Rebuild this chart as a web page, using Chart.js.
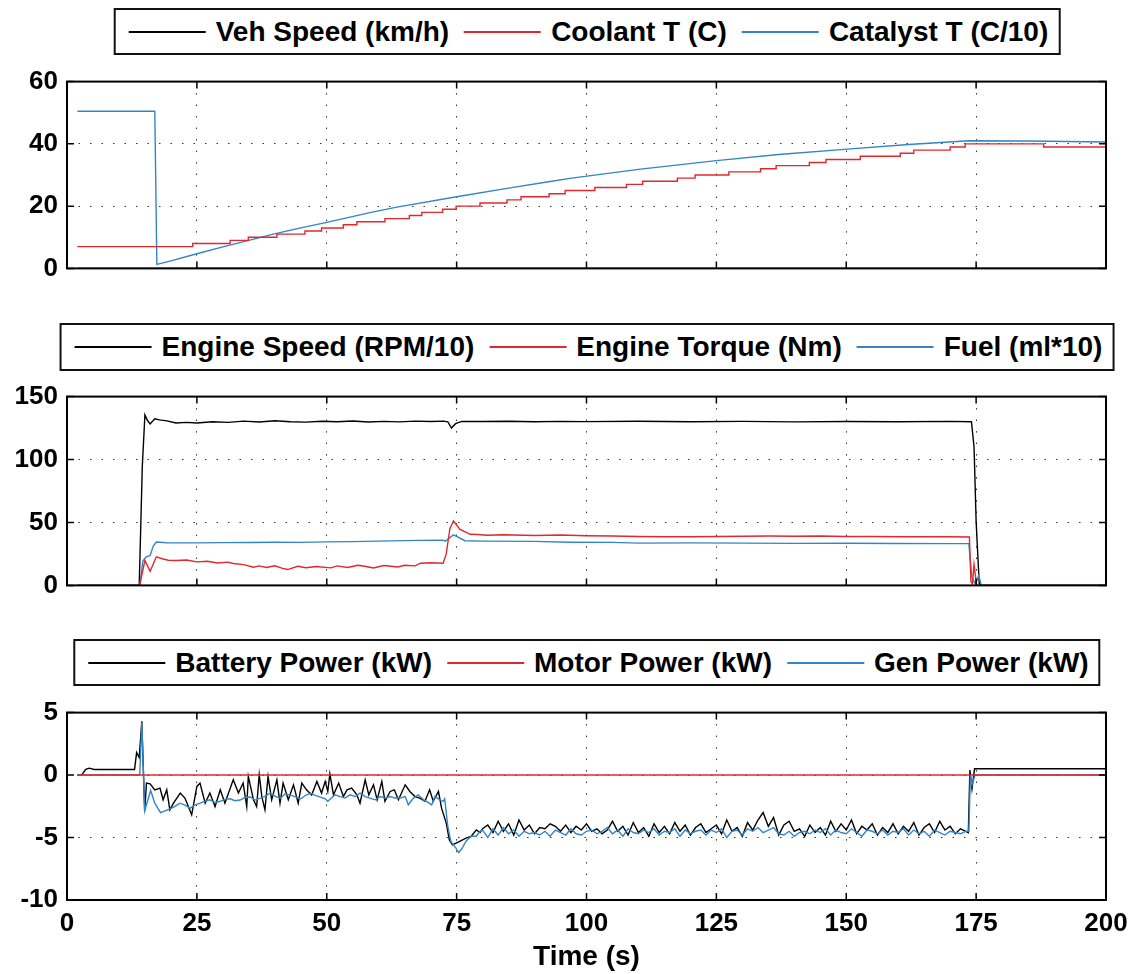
<!DOCTYPE html>
<html lang="en">
<head>
<meta charset="UTF-8">
<title>Engine warm-up run</title>
<script src="https://cdn.jsdelivr.net/npm/chart.js"></script>
<style>
  body { margin: 0; background: #fff; font-family: "Liberation Sans", Arial, sans-serif; }
  #page { position: relative; width: 1136px; height: 974px; overflow: hidden; background: #fff; }
  .panel { position: absolute; left: 0; width: 1136px; }
  .legend {
    position: absolute; left: 587px; transform: translateX(-50%);
    display: flex; align-items: center; box-sizing: border-box;
    border: 2px solid #111; background: #fff; padding: 0 10px 0 13px;
    white-space: nowrap; font-weight: bold; font-size: 28px; color: #000;
  }
  .legend .item { display: flex; align-items: center; margin-right: 15px; }
  .legend .item:last-child { margin-right: 0; }
  .legend .swatch { display: inline-block; width: 77px; height: 2px; margin-right: 10px; }
</style>
</head>
<body>
<div id="page">
  <div class="legend" style="top:8px;height:47px">
    <div class="item"><span class="swatch" style="background:#000"></span>Veh Speed (km/h)</div>
    <div class="item"><span class="swatch" style="background:#e0282d"></span>Coolant T (C)</div>
    <div class="item"><span class="swatch" style="background:#3385c6"></span>Catalyst T (C/10)</div>
  </div>
  <div class="panel" style="top:62px;height:216px"><canvas id="top"></canvas></div>

  <div class="legend" style="top:323px;height:48px">
    <div class="item"><span class="swatch" style="background:#000"></span>Engine Speed (RPM/10)</div>
    <div class="item"><span class="swatch" style="background:#e0282d"></span>Engine Torque (Nm)</div>
    <div class="item"><span class="swatch" style="background:#3385c6"></span>Fuel (ml*10)</div>
  </div>
  <div class="panel" style="top:377px;height:218px"><canvas id="mid"></canvas></div>

  <div class="legend" style="top:639px;height:47px">
    <div class="item"><span class="swatch" style="background:#000"></span>Battery Power (kW)</div>
    <div class="item"><span class="swatch" style="background:#e0282d"></span>Motor Power (kW)</div>
    <div class="item"><span class="swatch" style="background:#3385c6"></span>Gen Power (kW)</div>
  </div>
  <div class="panel" style="top:693px;height:281px"><canvas id="bot"></canvas></div>
</div>

<script>
// ---- panel 1: vehicle speed, coolant and catalyst temperature
const vehTime = [2, 200];
const vehSpeed = [0, 0];

const coolTime = [2, 24.2, 31.4, 34.9, 40.4, 45.8, 49, 53.2, 55.8, 61.2, 65.9, 68.3, 72.3, 74.9, 79.5, 84.7, 87.4, 92.8,
  95.9, 101.6, 107.7, 110.8, 117.5, 120.9, 127.4, 133.5, 136.5, 142.9, 146.1, 152.7, 160.4, 163, 170, 172.9, 188, 200];
const coolantT = [7, 8, 9, 10, 11, 12, 13, 14, 15, 16, 17, 18, 19, 20, 21, 22, 23, 24,
  25, 26, 27, 28, 29, 30, 31, 32, 33, 34, 35, 36, 37, 38, 39, 40, 39, 39];

const catTime = [2, 16.9, 17.3, 20, 25, 30, 35, 39.7, 45, 50, 58.3, 63.5, 75, 85, 93, 96.8, 110, 125, 137, 150.2, 162, 173.6, 185, 200];
const catalystT = [50.5, 50.5, 1.3, 2.4, 4.7, 6.9, 9.0, 11, 13, 14.8, 17.9, 19.7, 23, 25.8, 27.9, 28.9, 31.8, 34.6, 36.6, 38.3, 39.8, 41, 40.9, 40.6];

// ---- panel 2: engine speed, torque, fuel
const engTime = [2, 13.9, 14.5, 15.0, 15.5, 16.0, 16.9, 17.8, 19.2, 21, 23, 25, 28, 31, 34, 37, 40, 43, 46, 49,
  52, 55, 58, 61, 64, 67, 70, 72.5, 73.3, 74, 74.8, 76, 80, 85, 90, 95, 100, 110, 120, 130,
  140, 150, 160, 170, 174.1, 174.6, 175, 175.6, 176, 200];
const engSpeed = [0, 0, 95, 135.5, 131, 128.3, 132.3, 131.5, 130.7, 129, 129.5, 129, 130, 129.5, 130.5, 129.8, 130.8, 130, 129.7, 130.4,
  130, 130.6, 129.8, 130.3, 129.9, 130.5, 130.2, 130.5, 130, 125, 128.5, 130.3, 130.2, 130.4, 130, 130.3, 130.1, 130.4, 130, 130.3,
  129.9, 130.2, 130, 130.3, 130, 110, 51, 1, 0, 0];

const torqTime = [2, 14, 15, 16, 17.2, 18.5, 19.5, 21, 23, 25, 27, 29, 31, 32, 34, 35.9, 37, 38.4, 40, 41.5,
  42.5, 44.4, 46, 48, 50.8, 52, 54, 56, 57.3, 59, 61, 63.7, 65, 67, 68, 70, 72.4, 73, 73.7, 74.4,
  75.6, 77.6, 79, 80.9, 84, 90, 95, 100, 105, 110, 115, 120, 125, 130, 135, 140, 145, 150, 155, 160,
  165, 170, 173.7, 174, 174.3, 174.6, 175.1, 200];
const engTorque = [0, 0, 19.8, 11.2, 22.7, 21, 20, 19.8, 20.2, 18.7, 19.2, 17.8, 18.5, 17.4, 16.5, 14.4, 15.5, 14.2, 15.6, 13.5,
  12.6, 15.2, 14, 15, 13.9, 15.5, 14.2, 16, 15.2, 13.8, 15.8, 14.6, 16, 15.5, 17.6, 18, 17.6, 25, 45, 51.3,
  44.7, 40.6, 40.4, 39.8, 40.2, 39.6, 40, 39.5, 39.3, 38.8, 38.6, 38.6, 38.8, 39, 39.2, 39, 39.2, 38.8, 38.9, 38.7,
  38.6, 38.7, 38.5, 3, 1, 16.6, 0, 0];

const fuelTime = [2, 14, 14.6, 15.2, 16, 16.6, 17.2, 19.2, 25, 30, 35, 40, 45, 50, 55, 60, 65, 68, 72.4, 72.8,
  74.4, 76.6, 80, 90, 96.8, 105, 110, 120, 130, 140, 150, 160, 170, 173.6, 174.2, 174.9, 175.5, 176, 200];
const fuelUse = [0, 0, 19.3, 22.5, 23.8, 31.3, 34.5, 33.9, 33.8, 34, 34.1, 34.3, 34.2, 34.6, 34.8, 35.2, 35.6, 35.8, 36, 35.1,
  40.1, 35.5, 35.2, 35, 34.3, 34.2, 33.6, 33.8, 33.6, 33.4, 33.5, 33.3, 33.2, 33.2, 6, 1, 8, 0, 0];

// ---- panel 3: battery, motor, generator power
const batEarlyTime = [2, 2.8, 3.6, 4.3, 5.2, 13.0, 13.4, 13.9, 14.4, 14.95, 15.3, 16, 16.9, 17.9, 18.5, 19.2, 19.8, 20.5, 21.8, 22.7,
  24.0, 25, 25.6, 26.6, 27.5, 28.5, 29.5, 30.4, 32, 33, 33.9, 34.6, 34.9, 35.9, 36.5, 37, 37.5, 38.1, 38.7, 39.4,
  40.4, 41, 41.6, 42.6, 43.6, 44.5, 45.2, 46.1, 47.1, 48.1, 49, 49.7, 50.2, 50.6, 51.3, 52.3, 53.2, 53.9, 54.8, 55.8,
  56.4, 57.4, 58.1, 59, 59.7, 60.6, 61.2, 62.2, 63, 63.8, 65.1, 66, 67, 67.9, 68.9, 69.8, 70.5, 71.5, 72.1, 73,
  73.6, 74.2, 75.5, 76.8, 77.8, 78.8, 79.5];
const batEarly = [0, 0, 0.45, 0.55, 0.45, 0.45, 1.8, 1.4, 4.3, -2.9, -0.64, -0.7, -1.18, -1.04, -1.98, -1.18, -2.78, -2.25, -1.44, -1.84,
  -3.18, -0.91, -0.64, -2.25, -1.44, -2.52, -1.18, -2.25, -0.38, -1.44, -0.64, -2.52, -0.11, -1.98, -2.52, 0.02, -1.72, -2.78, -0.11, -1.98,
  -0.38, -2.25, -0.64, -1.98, -0.78, -2.25, -0.64, -1.18, -1.6, -0.51, -1.44, -0.51, -1.3, 0.1, -1.58, -0.64, -1.72, -1.18, -1.04, -1.58,
  -2.25, -0.38, -1.58, -0.78, -1.98, -0.51, -2.1, -1.31, -1.18, -1.98, -0.78, -1.31, -1.72, -1.84, -2.1, -1.18, -2.1, -1.31, -2.65, -3.85,
  -5.19, -5.59, -5.32, -5.05, -4.9, -4.39, -4.6];

const genEarlyTime = [2, 14, 14.4, 14.95, 16.1, 16.9, 18, 19.8, 20.8, 21.7, 22.7, 23.7, 24.6, 25.6, 26.5, 27.5, 28.5, 29.5, 30.4, 31.4,
  32.3, 33.3, 34.3, 35.3, 36.2, 37.2, 38.1, 39.1, 40.1, 41.1, 42, 43, 44, 45, 46, 46.9, 47.9, 48.8, 49.7, 50.2,
  51.6, 52.6, 53.5, 54.5, 55.5, 56.4, 57.4, 58.3, 59.3, 60.3, 61.2, 62.2, 63.1, 64.1, 65.1, 65.7, 66.7, 67.6, 68.6, 69.2,
  70.2, 70.8, 71.8, 72.4, 72.7, 73.3, 73.9, 74.9, 75.4, 76, 76.8, 77.8, 78.8, 79.5];
const genEarly = [0, 0, 4.2, -2.86, -1.23, -2.25, -3.0, -2.7, -2.5, -2.25, -2.4, -2.65, -2.4, -2.25, -2.1, -1.98, -2.2, -2.1, -1.95, -1.9,
  -2.05, -2.0, -1.8, -1.76, -2.0, -1.85, -1.7, -1.45, -1.7, -1.85, -1.5, -1.6, -1.75, -1.9, -1.6, -1.45, -1.65, -1.76, -1.9, -2.1,
  -1.58, -1.72, -1.84, -1.58, -1.72, -1.44, -1.72, -1.84, -1.98, -1.72, -1.84, -1.72, -1.84, -1.84, -1.72, -2.38, -1.84, -1.58, -1.98, -2.1,
  -2.38, -1.72, -1.98, -2.1, -1.9, -4.1, -5.32, -5.86, -6.2, -5.9, -5.3, -4.9, -4.9, -4.5];

// cruise section, one reading per second from 80 s to 173 s
const cruiseTime = [80, 81, 82, 83, 84, 85, 86, 87, 88, 89, 90, 91, 92, 93, 94, 95, 96, 97, 98, 99,
  100, 101, 102, 103, 104, 105, 106, 107, 108, 109, 110, 111, 112, 113, 114, 115, 116, 117, 118, 119,
  120, 121, 122, 123, 124, 125, 126, 127, 128, 129, 130, 131, 132, 133, 134, 135, 136, 137, 138, 139,
  140, 141, 142, 143, 144, 145, 146, 147, 148, 149, 150, 151, 152, 153, 154, 155, 156, 157, 158, 159,
  160, 161, 162, 163, 164, 165, 166, 167, 168, 169, 170, 171, 172, 173];
const batCruise = [-4.3, -4.0, -4.6, -3.7, -4.5, -3.9, -4.8, -3.6, -4.4, -4.0, -4.7, -4.2, -4.3, -3.9, -4.1, -4.5, -4.0, -4.6, -4.1, -4.4,
  -3.9, -4.5, -4.3, -4.7, -4.4, -3.7, -4.5, -4.1, -4.8, -3.8, -4.6, -4.2, -4.9, -3.9, -4.6, -4.1, -4.7, -3.8, -4.5, -4.0,
  -4.8, -4.2, -3.9, -4.6, -4.3, -4.0, -4.7, -3.6, -4.5, -4.2, -4.9, -3.8, -4.4, -3.6, -3.0, -4.1, -3.4, -4.8, -4.0, -3.7,
  -4.5, -4.3, -4.9, -4.0, -4.6, -4.2, -4.8, -3.7, -4.5, -3.9, -4.4, -3.6, -4.7, -4.1, -4.4, -3.9, -4.8, -4.2, -4.6, -3.9,
  -4.7, -4.1, -4.5, -3.8, -4.8, -4.2, -3.9, -4.6, -3.7, -4.4, -4.1, -4.7, -4.3, -4.5];
const genCruise = [-4.4, -5.0, -4.3, -4.8, -4.2, -4.7, -4.4, -4.9, -4.5, -4.7, -4.6, -4.8, -4.5, -4.9, -4.4, -4.6, -4.8, -4.3, -4.7, -4.8,
  -4.5, -4.4, -4.7, -4.5, -4.2, -4.7, -4.4, -4.9, -4.3, -4.6, -4.7, -4.4, -4.6, -4.3, -4.8, -4.5, -4.6, -4.3, -4.9, -4.4,
  -4.7, -4.5, -4.4, -4.8, -4.4, -4.6, -4.3, -5.0, -4.5, -4.4, -4.8, -4.3, -4.5, -4.2, -4.6, -4.4, -4.2, -4.7, -4.8, -4.5,
  -4.9, -4.6, -4.5, -4.7, -4.4, -4.6, -4.3, -4.8, -4.4, -4.6, -4.7, -4.3, -4.6, -4.9, -4.4, -4.5, -4.7, -4.4, -4.8, -4.5,
  -4.6, -4.3, -4.8, -4.4, -4.7, -4.5, -4.9, -4.4, -4.6, -4.8, -4.5, -4.6, -4.7, -4.5];

const batLateTime = [173.5, 173.8, 174.2, 174.7, 200];
const batLate = [-4.6, 0.4, -1.1, 0.5, 0.5];
const genLateTime = [173.6, 173.9, 174.2, 174.8, 200];
const genLate = [-4.5, 0, -0.8, 0, 0];

const motorTime = [2, 200];
const motorPower = [0, 0];

const timeTicks = [0, 25, 50, 75, 100, 125, 150, 175, 200];

const RED = '#e0282d', BLUE = '#3385c6', BLACK = '#000000';
Chart.defaults.font.family = '"Liberation Sans", Arial, Helvetica, sans-serif';

function pts(ts, vs) {
  return ts.map((t, i) => ({ x: t, y: vs[i] }));
}

function line(ts, vs, color, extra) {
  return Object.assign({ data: pts(ts, vs), borderColor: color, backgroundColor: color, borderWidth: 1.4,
    pointRadius: 0, tension: 0, fill: false }, extra || {});
}

// box round the axes and inward tick marks on all four sides, like the original plot tool
const boxAxes = {
  id: 'boxAxes',
  afterDatasetsDraw(chart) {
    const { ctx, chartArea: a, scales } = chart;
    const len = 7;
    ctx.save();
    ctx.strokeStyle = '#000';
    ctx.lineWidth = 1.5;
    ctx.beginPath();
    scales.x.ticks.forEach(t => {
      const px = scales.x.getPixelForValue(t.value);
      ctx.moveTo(px, a.bottom); ctx.lineTo(px, a.bottom - len);
      ctx.moveTo(px, a.top); ctx.lineTo(px, a.top + len);
    });
    scales.y.ticks.forEach(t => {
      const py = scales.y.getPixelForValue(t.value);
      ctx.moveTo(a.left, py); ctx.lineTo(a.left + len, py);
      ctx.moveTo(a.right, py); ctx.lineTo(a.right - len, py);
    });
    ctx.stroke();
    ctx.lineWidth = 2;
    ctx.strokeRect(a.left, a.top, a.right - a.left, a.bottom - a.top);
    ctx.restore();
  }
};

function makePanel(id, datasets, yMin, yMax, yStep, showX) {
  return new Chart(document.getElementById(id), {
    type: 'line',
    data: { datasets: datasets },
    options: {
      animation: false,
      responsive: true,
      maintainAspectRatio: false,
      resizeDelay: 0,
      layout: { autoPadding: false, padding: { top: 20, right: 30, bottom: 0, left: 0 } },
      plugins: { legend: { display: false }, tooltip: { enabled: false } },
      scales: {
        x: {
          type: 'linear', min: 0, max: 200,
          afterBuildTicks: s => { s.ticks = timeTicks.map(v => ({ value: v })); },
          ticks: { display: showX, color: '#000', font: { size: 26, weight: 'bold' }, padding: 8, maxRotation: 0, autoSkip: false },
          grid: { color: '#333', lineWidth: 1, drawTicks: false },
          border: { display: false, dash: [1.5, 10] },
          title: { display: showX, text: 'Time (s)', color: '#000', font: { size: 28, weight: 'bold' }, padding: { top: 0, bottom: 0 } },
          afterFit: s => { s.height = showX ? 74 : 10; }
        },
        y: {
          min: yMin, max: yMax,
          ticks: { stepSize: yStep, color: '#000', font: { size: 26, weight: 'bold' }, padding: 9 },
          grid: { color: '#333', lineWidth: 1, drawTicks: false },
          border: { display: false, dash: [1.5, 10] },
          afterFit: s => { s.width = 67; }
        }
      }
    },
    plugins: [boxAxes]
  });
}

// move a panel's wrapper so its plot box sits between the given page rows
function placePanel(chart, top, bottom) {
  const wrap = chart.canvas.parentNode;
  for (let k = 0; k < 3; k++) {
    const a = chart.chartArea;
    const curH = parseFloat(wrap.style.height);
    const newTop = Math.round(top - a.top);
    const newH = Math.round(curH + (bottom - (newTop + a.bottom)));
    wrap.style.top = newTop + 'px';
    wrap.style.height = newH + 'px';
    chart.resize();
  }
}

const topChart = makePanel('top', [
  line(coolTime, coolantT, RED, { stepped: true }),
  line(catTime, catalystT, BLUE),
  line(vehTime, vehSpeed, BLACK)
], 0, 60, 20, false);

const midChart = makePanel('mid', [
  line(torqTime, engTorque, RED),
  line(fuelTime, fuelUse, BLUE),
  line(engTime, engSpeed, BLACK)
], 0, 150, 50, false);

const botChart = makePanel('bot', [
  line(motorTime, motorPower, RED),
  line(genEarlyTime.concat(cruiseTime, genLateTime), genEarly.concat(genCruise, genLate), BLUE),
  line(batEarlyTime.concat(cruiseTime, batLateTime), batEarly.concat(batCruise, batLate), BLACK)
], -10, 5, 5, true);

placePanel(topChart, 82, 268);
placePanel(midChart, 397, 585);
placePanel(botChart, 713, 900);
</script>
</body>
</html>
